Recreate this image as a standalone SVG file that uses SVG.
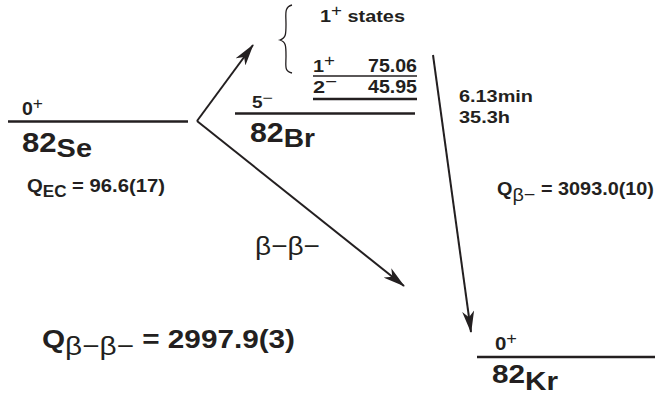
<svg xmlns="http://www.w3.org/2000/svg" width="655" height="395" viewBox="0 0 655 395">
<style>
.b{font-family:"Liberation Sans",Arial,sans-serif;font-weight:bold;fill:#231f20}
.n{font-family:"Liberation Sans",Arial,sans-serif;font-weight:normal;fill:#231f20}
.lvl{stroke:#231f20;stroke-width:2.5;fill:none}
.thin{stroke:#231f20;stroke-width:1.5;fill:none}
.arr{stroke:#231f20;stroke-width:2;fill:none;marker-end:url(#ah)}
</style>
<defs>
<marker id="ah" viewBox="0 0 22 12" refX="21" refY="6" markerWidth="22" markerHeight="12" markerUnits="userSpaceOnUse" orient="auto">
<path d="M0,0 L22,6 L0,12 L6,6 z" fill="#231f20"/>
</marker>
</defs>
<rect width="655" height="395" fill="#fff"/>
<g id="se82">
<line class="lvl" x1="8" y1="121.5" x2="188" y2="121.5"/>
<text class="b" x="22" y="115" font-size="18" textLength="21" lengthAdjust="spacingAndGlyphs">0<tspan class="n" dy="-6" font-size="16">+</tspan></text>
<text class="b" x="22" y="152" font-size="28" textLength="70" lengthAdjust="spacingAndGlyphs">82<tspan dy="5" font-size="26">Se</tspan></text>
<text class="b" x="27" y="192" font-size="19" textLength="138" lengthAdjust="spacingAndGlyphs">Q<tspan dy="5" font-size="16">EC</tspan><tspan dy="-5"> = 96.6(17)</tspan></text>
</g>
<g id="br82">
<path d="M292,5 C284,7 286,14 286,24 C286,34 286,38 280,40 C286,42 286,46 286,56 C286,66 284,71 292,73" stroke="#231f20" stroke-width="1.3" fill="none"/>
<text class="b" x="320" y="22" font-size="17" textLength="85" lengthAdjust="spacingAndGlyphs">1<tspan class="n" dy="-6" font-size="16">+</tspan><tspan dy="6"> states</tspan></text>
<text class="b" x="313" y="72" font-size="17" textLength="22" lengthAdjust="spacingAndGlyphs">1<tspan class="n" dy="-6" font-size="16">+</tspan></text>
<text class="b" x="368" y="72" font-size="19" textLength="49" lengthAdjust="spacingAndGlyphs">75.06</text>
<line class="thin" x1="313" y1="76" x2="417" y2="76"/>
<text class="b" x="313" y="93" font-size="17" textLength="24" lengthAdjust="spacingAndGlyphs">2<tspan class="n" dy="-6" font-size="16">−</tspan></text>
<text class="b" x="368" y="93" font-size="19" textLength="49" lengthAdjust="spacingAndGlyphs">45.95</text>
<line class="lvl" x1="313" y1="99" x2="417" y2="99"/>
<text class="b" x="252" y="108" font-size="16" textLength="21" lengthAdjust="spacingAndGlyphs">5<tspan class="n" dy="-5" font-size="15">−</tspan></text>
<line class="lvl" x1="235" y1="113.5" x2="415" y2="113.5"/>
<text class="b" x="250" y="142" font-size="28" textLength="65" lengthAdjust="spacingAndGlyphs">82<tspan dy="5" font-size="26">Br</tspan></text>
<text class="b" x="459" y="102" font-size="17" textLength="74" lengthAdjust="spacingAndGlyphs">6.13min</text>
<text class="b" x="459" y="123" font-size="17" textLength="51" lengthAdjust="spacingAndGlyphs">35.3h</text>
</g>
<g id="kr82">
<line class="lvl" x1="477" y1="357" x2="655" y2="357"/>
<text class="b" x="495" y="350" font-size="18" textLength="22" lengthAdjust="spacingAndGlyphs">0<tspan class="n" dy="-6" font-size="16">+</tspan></text>
<text class="b" x="492" y="383" font-size="26" textLength="66" lengthAdjust="spacingAndGlyphs">82<tspan dy="7" font-size="26">Kr</tspan></text>
</g>
<g id="labels">
<text class="b" x="497" y="195" font-size="19" textLength="157" lengthAdjust="spacingAndGlyphs">Q<tspan class="n" dy="6" font-size="19">β−</tspan><tspan dy="-6"> = 3093.0(10)</tspan></text>
<text class="n" x="255" y="255" font-size="26" textLength="65" lengthAdjust="spacingAndGlyphs">β−β−</text>
<text class="b" x="42" y="348" font-size="26" textLength="253" lengthAdjust="spacingAndGlyphs">Q<tspan class="n" dy="7" font-size="26">β−β−</tspan><tspan dy="-7"> = 2997.9(3)</tspan></text>
</g>
<g id="connectors">
<line class="arr" x1="197" y1="121" x2="253" y2="45"/>
<line class="arr" x1="197" y1="121" x2="404" y2="286"/>
<line class="arr" x1="433" y1="55" x2="471" y2="332"/>
</g>
</svg>
